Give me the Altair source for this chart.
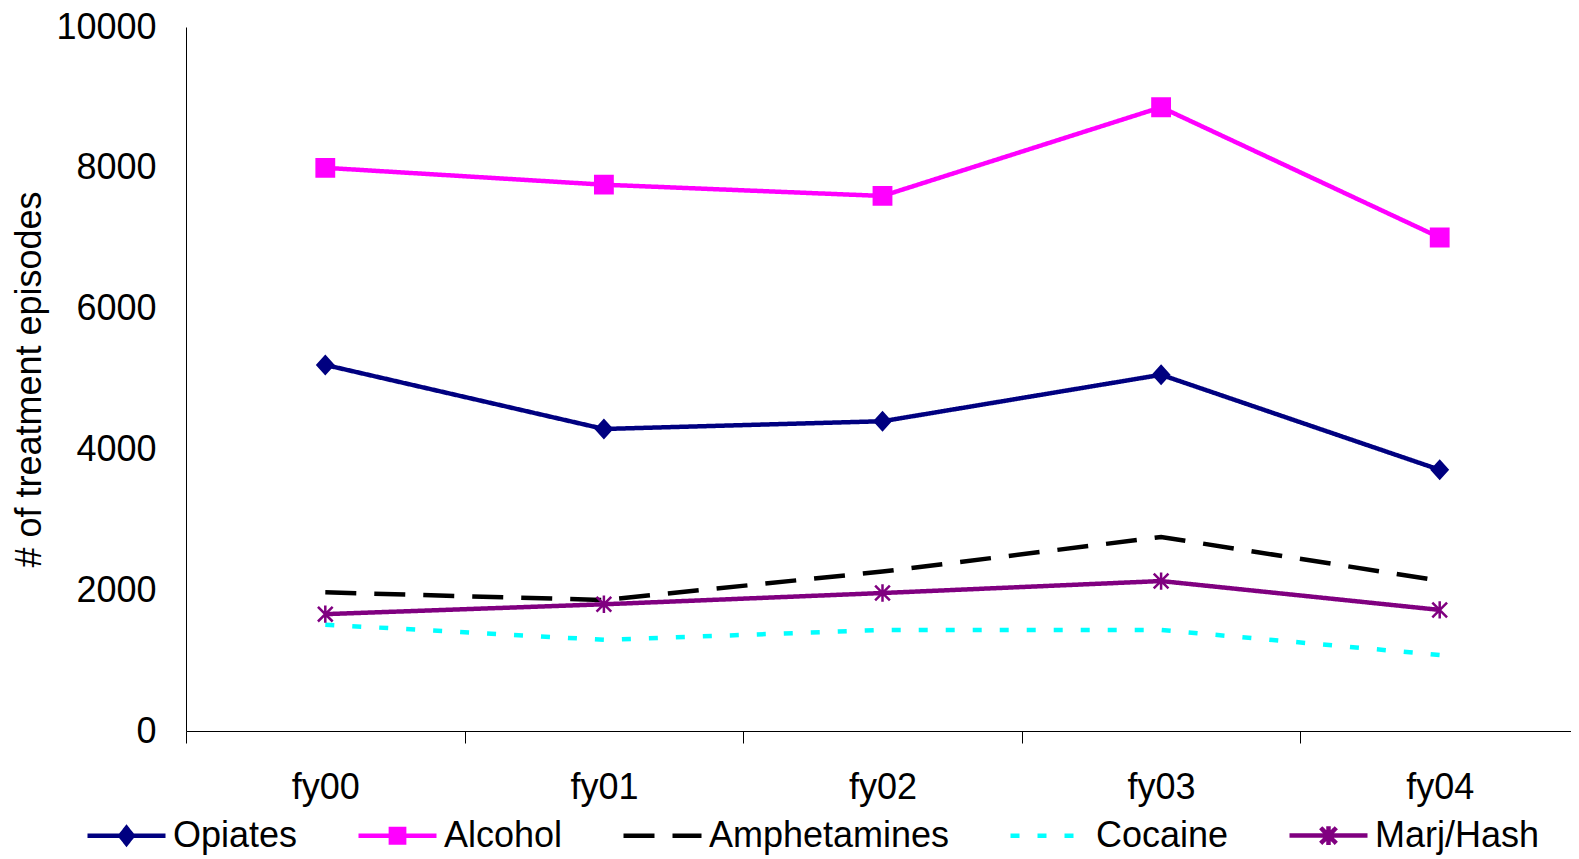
import altair as alt
import pandas as pd

years = ["fy00", "fy01", "fy02", "fy03", "fy04"]
series_names = ["Opiates", "Alcohol", "Amphetamines", "Cocaine", "Marj/Hash"]
opiates = [5200, 4290, 4400, 5060, 3710]
alcohol = [8000, 7760, 7600, 8860, 7010]
amphetamines = [1970, 1860, 2265, 2755, 2135]
cocaine = [1510, 1295, 1435, 1435, 1080]
marj_hash = [1660, 1800, 1960, 2130, 1720]

colors = ["#000080", "#FF00FF", "#000000", "#00FFFF", "#800080"]
dashes = [[1, 0], [1, 0], [31, 18], [9, 18], [1, 0]]

marker_paths = [
    "M0,-1L0.9,0L0,1L-0.9,0Z",
    "M-1,-1L1,-1L1,1L-1,1Z",
    "M0,0",
    "M0,0",
    "M0,-1L0,1M-0.85,-0.85L0.85,0.85M-0.85,0.85L0.85,-0.85",
]
legend_paths = [
    "M-1,0L1,0M0,-0.2L0.16,0L0,0.2L-0.16,0Z",
    "M-1,0L1,0M-0.17,-0.17L0.17,-0.17L0.17,0.17L-0.17,0.17Z",
    "M-1,0L1,0",
    "M-1,0L1,0",
    "M-1,0L1,0M0,-0.24L0,0.24M-0.2,-0.2L0.2,0.2M-0.2,0.2L0.2,-0.2",
]

values = [opiates, alcohol, amphetamines, cocaine, marj_hash]
rows = []
for name, vals in zip(series_names, values):
    for yr, v in zip(years, vals):
        rows.append({"year": yr, "series": name, "value": v})
df = pd.DataFrame(rows)

FONT = "Liberation Sans"

x_enc = alt.X(
    "year:N",
    bandPosition=0.5,
    scale=alt.Scale(type="band", domain=years, paddingInner=0, paddingOuter=0,
                    range=[0, 1393]),
    axis=alt.Axis(
        title=None, tickBand="extent", tickSize=12, tickColor="black",
        domainColor="black", labelPadding=27, labelFontSize=36,
        labelFont=FONT, labelColor="black", labelAngle=0, grid=False,
    ),
)
y_enc = alt.Y(
    "value:Q",
    scale=alt.Scale(domain=[0, 10000], nice=False, zero=True),
    axis=alt.Axis(
        title="# of treatment episodes", values=[0, 2000, 4000, 6000, 8000, 10000],
        format="d",
        ticks=False, labelPadding=30, labelFontSize=36, labelFont=FONT,
        labelColor="black", domainColor="black", grid=False,
        titleFont=FONT, titleFontSize=36, titleFontWeight="normal",
        titleColor="black", titlePadding=7,
    ),
)

color_scale = alt.Scale(domain=series_names, range=colors)
dash_scale = alt.Scale(domain=series_names, range=dashes)

lines = alt.Chart(df).mark_line(strokeWidth=4.5).encode(
    x=x_enc, y=y_enc,
    color=alt.Color("series:N", scale=color_scale, legend=None),
    strokeDash=alt.StrokeDash("series:N", scale=dash_scale, legend=None),
)

markers = alt.Chart(df).transform_filter(
    alt.FieldOneOfPredicate(field="series", oneOf=["Opiates", "Alcohol", "Marj/Hash"])
).mark_point(filled=False, size=300, strokeWidth=2.5, opacity=1).encode(
    x=x_enc, y=y_enc,
    color=alt.Color("series:N", scale=color_scale, legend=None),
    fill=alt.Fill("series:N", scale=color_scale, legend=None),
    shape=alt.Shape("series:N", scale=alt.Scale(domain=series_names, range=marker_paths), legend=None),
)

legend_cfg = dict(
    title=None, orient="none", legendX=-101, legendY=767, direction="horizontal",
    columns=5, columnPadding=51, labelFontSize=36, labelFont=FONT,
    labelColor="black", labelOffset=5, labelLimit=600, symbolSize=6084,
    symbolStrokeWidth=4.5, padding=0,
)

legend_layer = alt.Chart(df).transform_filter("false").mark_point(
    filled=False, opacity=1
).encode(
    x=x_enc, y=y_enc,
    color=alt.Color("series:N", scale=color_scale, legend=alt.Legend(**legend_cfg)),
    fill=alt.Fill("series:N", scale=color_scale, legend=alt.Legend(**legend_cfg)),
    strokeDash=alt.StrokeDash("series:N", scale=dash_scale, legend=alt.Legend(**legend_cfg)),
    shape=alt.Shape("series:N", scale=alt.Scale(domain=series_names, range=legend_paths),
                    legend=alt.Legend(**legend_cfg)),
)

chart = alt.layer(lines, markers, legend_layer).resolve_scale(
    color="independent", fill="independent", strokeDash="independent", shape="independent"
).properties(
    width=1385, height=704,
    autosize=alt.AutoSizeParams(type="none"),
    padding={"left": 178, "top": 19, "right": 0, "bottom": 128},
    background="white",
).configure_view(stroke=None)

chart.save("out.html", embed_options={"renderer": "svg", "actions": False})
